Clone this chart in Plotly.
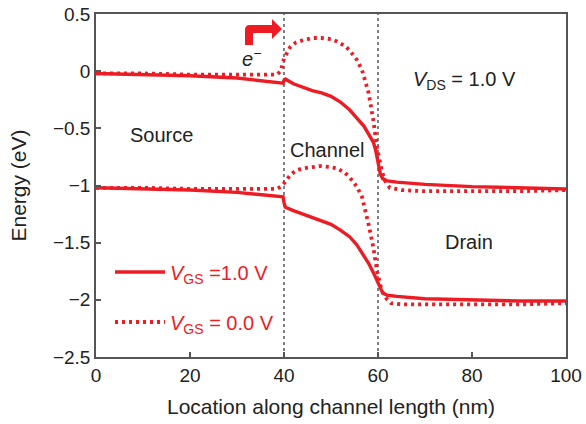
import plotly.graph_objects as go

# ---- data (nm, eV) ----
x_ec_on = [0, 10, 20, 30, 35, 39.8, 40.0, 40.3, 42, 44, 46, 48, 50, 52, 54, 55.5, 57, 58, 59, 59.5, 60, 60.5, 61, 62, 64, 70, 80, 90, 100]
y_ec_on = [-0.02, -0.03, -0.04, -0.06, -0.08, -0.105, -0.08, -0.07, -0.11, -0.14, -0.17, -0.19, -0.22, -0.27, -0.34, -0.41, -0.48, -0.55, -0.62, -0.69, -0.80, -0.90, -0.94, -0.96, -0.97, -0.99, -1.01, -1.02, -1.03]

x_ev_on = [0, 10, 20, 30, 35, 39.8, 40.0, 40.3, 42, 44, 46, 48, 50, 52, 54, 55.5, 57, 58, 59, 60, 60.5, 61, 62, 64, 70, 80, 90, 100]
y_ev_on = [-1.02, -1.03, -1.04, -1.06, -1.08, -1.10, -1.15, -1.19, -1.22, -1.25, -1.28, -1.31, -1.34, -1.39, -1.45, -1.52, -1.61, -1.68, -1.76, -1.85, -1.90, -1.94, -1.96, -1.97, -1.99, -2.00, -2.01, -2.01]

x_ec_off = [0, 10, 20, 30, 38.5, 39.3, 40, 41.3, 42.5, 44, 46, 48, 50, 51.3, 53, 54, 55.5, 56.6, 58, 59, 59.8, 60.8, 61.5, 62.5, 65, 70, 80, 90, 100]
y_ec_off = [-0.02, -0.02, -0.03, -0.03, -0.03, 0.0, 0.11, 0.21, 0.25, 0.27, 0.29, 0.29, 0.28, 0.26, 0.22, 0.18, 0.10, 0.01, -0.19, -0.43, -0.67, -0.87, -0.96, -1.02, -1.04, -1.05, -1.05, -1.05, -1.04]

x_ev_off = [0, 10, 20, 30, 38.5, 39.3, 40, 41.3, 42.5, 44, 46, 47.7, 50, 51.3, 53, 54, 55.5, 56.6, 58, 59, 59.8, 60.8, 61.8, 62.8, 65, 70, 80, 90, 100]
y_ev_off = [-1.02, -1.02, -1.03, -1.03, -1.03, -1.01, -0.98, -0.91, -0.87, -0.85, -0.835, -0.83, -0.84, -0.85, -0.89, -0.93, -1.01, -1.10, -1.34, -1.54, -1.75, -1.92, -1.99, -2.03, -2.04, -2.04, -2.04, -2.04, -2.03]

x_ticks = [0, 20, 40, 60, 80, 100]
y_ticks = [-2.5, -2, -1.5, -1, -0.5, 0, 0.5]
boundaries = [40, 60]

RED = "#ed1c24"
FONT = "Liberation Sans, Arial, sans-serif"
TXT = "#222222"

fig = go.Figure()
fig.add_trace(go.Scatter(x=x_ec_on, y=y_ec_on, mode="lines",
                         line=dict(color=RED, width=3.4),
                         name="<i>V</i><sub>GS</sub> =1.0 V", legend="legend"))
fig.add_trace(go.Scatter(x=x_ev_on, y=y_ev_on, mode="lines",
                         line=dict(color=RED, width=3.4),
                         showlegend=False))
fig.add_trace(go.Scatter(x=x_ec_off, y=y_ec_off, mode="lines",
                         line=dict(color=RED, width=3.8, dash="3px,4px"),
                         name="<i>V</i><sub>GS</sub> = 0.0 V", legend="legend2"))
fig.add_trace(go.Scatter(x=x_ev_off, y=y_ev_off, mode="lines",
                         line=dict(color=RED, width=3.8, dash="3px,4px"),
                         showlegend=False))

# vertical boundary lines
for b in boundaries:
    fig.add_shape(type="line", xref="x", yref="paper", x0=b, x1=b, y0=0, y1=1,
                  line=dict(color="#555555", width=1.5, dash="dot"), layer="below")

# bent arrow (pixel geometry converted to paper coords)
L, R, T, B = 96, 566, 14, 357
def px(p):
    return (p - L) / (R - L)
def py(p):
    return (B - p) / (B - T)
arrow_path = (f"M {px(245)},{py(45)} L {px(245)},{py(30)} Q {px(245)},{py(25)} {px(250)},{py(25)} "
              f"L {px(272)},{py(25)} L {px(272)},{py(19)} L {px(282)},{py(29)} L {px(272)},{py(39)} "
              f"L {px(272)},{py(33)} L {px(253)},{py(33)} L {px(253)},{py(45)} Z")
fig.add_shape(type="path", xref="paper", yref="paper", path=arrow_path,
              fillcolor=RED, line=dict(width=0))

ann_font = dict(family=FONT, size=20, color=TXT)
fig.add_annotation(x=14.0, y=-0.56, text="Source", showarrow=False, font=ann_font)
fig.add_annotation(x=49.3, y=-0.69, text="Channel", showarrow=False, font=ann_font)
fig.add_annotation(x=79.4, y=-1.49, text="Drain", showarrow=False, font=ann_font)
fig.add_annotation(x=78.5, y=-0.08, text="<i>V</i><sub>DS</sub> = 1.0 V", showarrow=False, font=ann_font)
fig.add_annotation(x=33.0, y=0.12, text="<i>e</i><sup>−</sup>", showarrow=False, font=ann_font)

axis_common = dict(showline=True, linecolor="#555555", linewidth=1.5, mirror=True,
                   ticks="inside", ticklen=5, tickwidth=1.5, tickcolor="#555555",
                   showgrid=False, zeroline=False, automargin=False,
                   tickfont=dict(family=FONT, size=19, color=TXT))

fig.update_layout(
    width=586, height=424,
    margin=dict(l=96, r=20, t=14, b=67),
    paper_bgcolor="white", plot_bgcolor="white",
    font=dict(family=FONT, color=TXT),
    xaxis=dict(range=[0, 100], tickvals=x_ticks,
               title=dict(text="Location along channel length (nm)",
                          font=dict(family=FONT, size=21, color=TXT), standoff=15),
               **axis_common),
    yaxis=dict(range=[-2.5, 0.5], tickvals=y_ticks,
               title=dict(text="Energy (eV)", font=dict(family=FONT, size=21, color=TXT), standoff=21),
               **axis_common),
    legend=dict(x=px(110), y=py(272), xanchor="left", yanchor="middle", itemwidth=50,
                bgcolor="rgba(0,0,0,0)", font=dict(family=FONT, size=20, color=RED)),
    legend2=dict(x=px(110), y=py(322), xanchor="left", yanchor="middle", itemwidth=50,
                 bgcolor="rgba(0,0,0,0)", font=dict(family=FONT, size=20, color=RED)),
)

fig.write_html("out.html", config={"displayModeBar": False},
               post_script="document.body.style.margin='0';document.body.style.overflow='hidden';")
